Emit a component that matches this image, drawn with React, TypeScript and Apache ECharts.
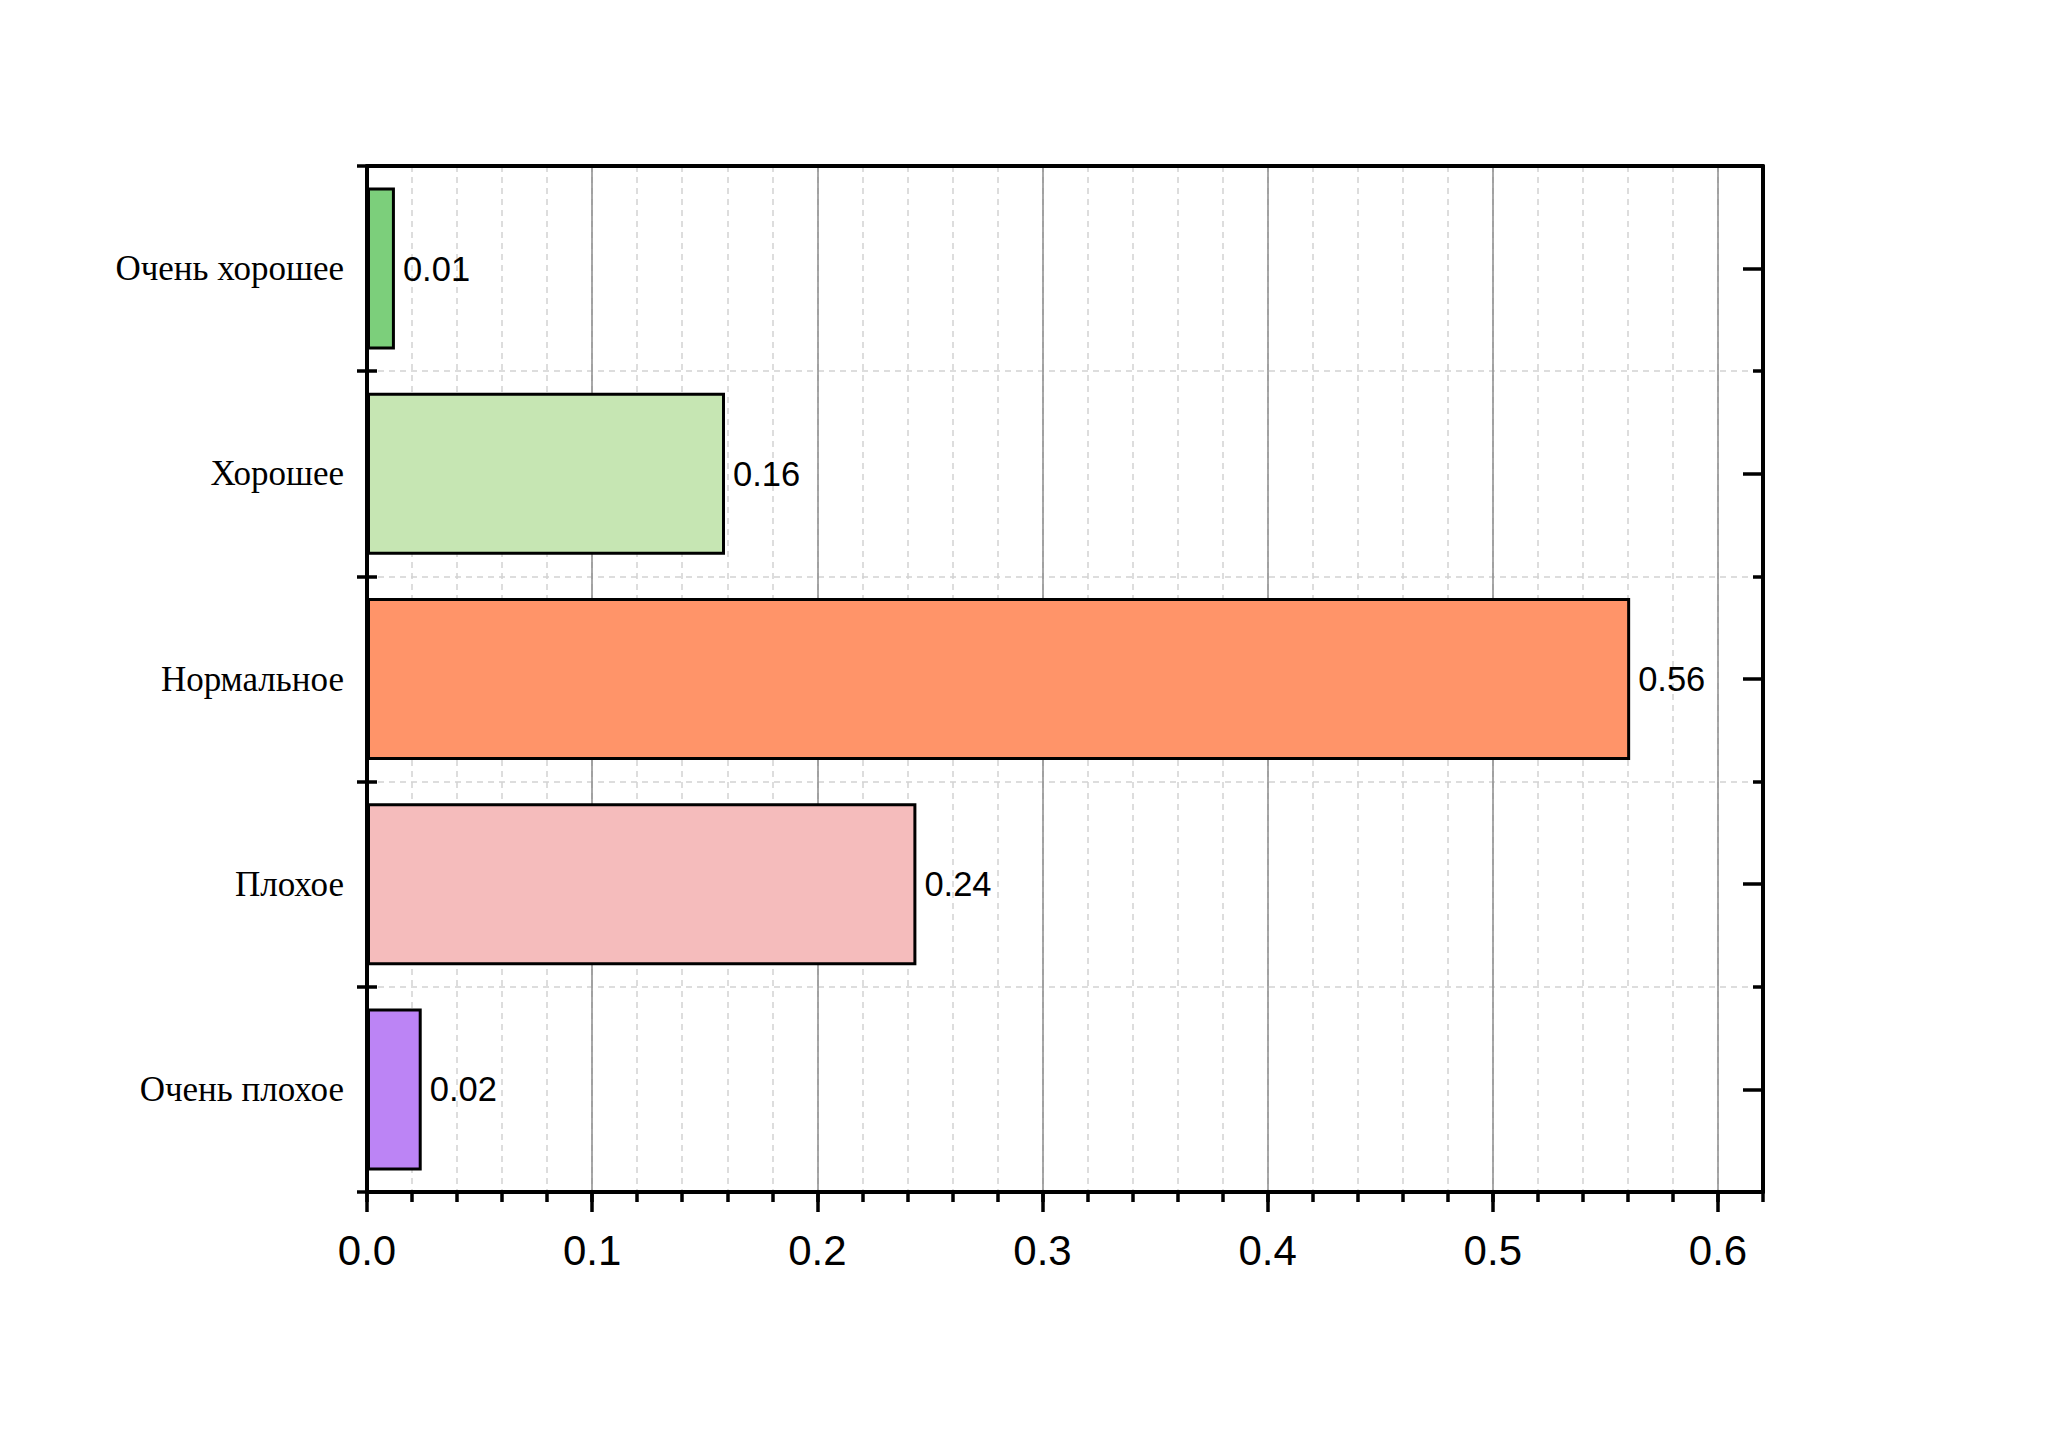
import React, { useEffect, useRef } from "react";
import * as echarts from "echarts";

const categories = ["Очень хорошее", "Хорошее", "Нормальное", "Плохое", "Очень плохое"];
const values = [0.0124, 0.159, 0.561, 0.244, 0.0243];
const barColors = ["#7ccf7b", "#c6e6b3", "#ff9469", "#f5bcbc", "#bc84f5"];
const majorTicks = [0, 0.1, 0.2, 0.3, 0.4, 0.5, 0.6];
const xMax = 0.62;

export default function App() {
  const ref = useRef<HTMLDivElement>(null);
  useEffect(() => {
    if (!ref.current) return;
    const chart = echarts.init(ref.current, null, { renderer: "svg" });
    const black = "#000";
    const catBase = {
      type: "category",
      inverse: true,
      data: categories,
    };
    const lineW = 4;
    const tickW = 3.5;
    chart.setOption({
      animation: false,
      backgroundColor: "#fff",
      grid: { left: 367, top: 166, width: 1396, height: 1026, containLabel: false },
      xAxis: [
        {
          type: "value",
          position: "bottom",
          min: 0,
          max: xMax,
          interval: 0.02,
          axisLine: { show: false, onZero: false },
          axisTick: { show: true, length: 10, lineStyle: { color: black, width: tickW } },
          axisLabel: { show: false },
          splitLine: { show: true, lineStyle: { color: "#d2d2d2", width: 1.5, type: [6, 5] } },
        },
        {
          type: "value",
          position: "bottom",
          min: 0,
          max: xMax,
          interval: 0.1,
          axisLine: { show: true, onZero: false, lineStyle: { color: black, width: lineW } },
          axisTick: {
            show: true,
            length: 20,
            customValues: majorTicks,
            lineStyle: { color: black, width: tickW },
          },
          axisLabel: {
            customValues: majorTicks,
            formatter: (v: number) => v.toFixed(1),
            fontFamily: "Liberation Sans, Arial",
            fontSize: 42,
            color: black,
            margin: 37,
          },
          splitLine: { show: true, lineStyle: { color: "#8c8c8c", width: 1.5 } },
        },
        {
          type: "value",
          position: "top",
          min: 0,
          max: xMax,
          axisLine: { show: true, onZero: false, lineStyle: { color: black, width: lineW } },
          axisTick: { show: false },
          axisLabel: { show: false },
          splitLine: { show: false },
        },
      ],
      yAxis: [
        {
          ...catBase,
          position: "left",
          axisLine: { show: true, onZero: false, lineStyle: { color: black, width: lineW } },
          axisTick: { show: true, length: 10, lineStyle: { color: black, width: tickW } },
          axisLabel: {
            fontFamily: "Liberation Serif, Times New Roman",
            fontSize: 35,
            color: black,
            margin: 23,
          },
          splitLine: { show: true, lineStyle: { color: "#d2d2d2", width: 1.5, type: [6, 5] } },
        },
        {
          ...catBase,
          position: "left",
          axisLine: { show: false, onZero: false },
          axisTick: { show: true, inside: true, length: 10, lineStyle: { color: black, width: tickW } },
          axisLabel: { show: false },
          splitLine: { show: false },
        },
        {
          ...catBase,
          position: "right",
          axisLine: { show: true, onZero: false, lineStyle: { color: black, width: lineW } },
          axisTick: {
            show: true,
            inside: true,
            alignWithLabel: true,
            length: 20,
            lineStyle: { color: black, width: tickW },
          },
          axisLabel: { show: false },
          splitLine: { show: false },
        },
        {
          ...catBase,
          position: "right",
          axisLine: { show: false, onZero: false },
          axisTick: { show: true, inside: true, length: 10, lineStyle: { color: black, width: tickW } },
          axisLabel: { show: false },
          splitLine: { show: false },
        },
      ],
      series: [
        {
          type: "bar",
          xAxisIndex: 1,
          yAxisIndex: 0,
          barWidth: 162,
          data: values.map((v, i) => ({
            value: v,
            itemStyle: { color: barColors[i], borderColor: black, borderWidth: 3 },
          })),
          label: {
            show: true,
            position: "right",
            distance: 8,
            formatter: (p: any) => Number(p.value).toFixed(2),
            fontFamily: "Liberation Sans, Arial",
            fontSize: 34.5,
            color: black,
          },
        },
      ],
    });
    return () => chart.dispose();
  }, []);
  return (
    <div
      ref={ref}
      style={{ position: "absolute", left: 0, top: 0, width: 2048, height: 1431 }}
    />
  );
}
